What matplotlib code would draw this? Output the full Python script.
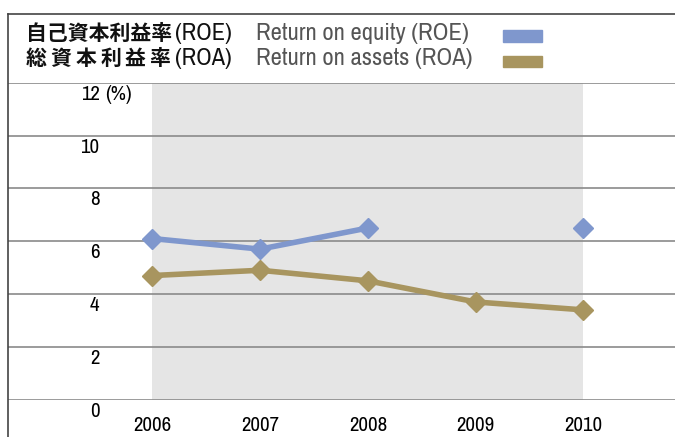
import numpy as np
import matplotlib
matplotlib.use("Agg")
import matplotlib.pyplot as plt
from matplotlib import font_manager
from matplotlib.lines import Line2D
from matplotlib.patches import Rectangle

years = [2006, 2007, 2008, 2009, 2010]
roe = [6.1, 5.7, 6.5, np.nan, 6.5]
roa = [4.7, 4.9, 4.5, 3.7, 3.4]
yticks = [0, 2, 4, 6, 8, 10, 12]
roe_jp = "自己資本利益率"
roa_jp = "総資本利益率"
roe_abbr = "(ROE)"
roa_abbr = "(ROA)"
roe_en = "Return on equity (ROE)"
roa_en = "Return on assets (ROA)"

c_roe = "#7f97cd"
c_roa = "#a8955f"

names = {f.name for f in font_manager.fontManager.ttflist}
narrow = "DejaVu Sans"
for n in ["Archivo Narrow", "Liberation Sans Narrow", "Barlow Condensed"]:
    if n in names:
        narrow = n
        break
fams = [narrow, "Noto Sans CJK JP", "DejaVu Sans"]
jp = ["Noto Sans CJK JP", "DejaVu Sans"]
plt.rcParams["font.family"] = fams

W, H = 675, 437
fig = plt.figure(figsize=(W / 100, H / 100), dpi=100)

def fx(px):
    return px / W

def fy(py):
    return 1 - py / H

y0, y12 = 399.7, 82.7
ax = fig.add_axes([fx(8), fy(y0), 1 - fx(8), fy(y12) - fy(y0)])
ax.set_xlim(2004.66, 2010.85)
ax.set_ylim(0, 12)
for s in ax.spines.values():
    s.set_visible(False)
ax.axvspan(2006, 2010, color="#e5e5e5", zorder=0, lw=0)
for t in yticks:
    ax.axhline(t, color="#8a8a8a", lw=1.2, zorder=1)
ax.set_yticks([])
ax.set_xticks(years)
ax.set_xticklabels([str(y) for y in years], fontsize=15)
ax.tick_params(axis="x", length=0, pad=12)

ax.plot(years, roe, color=c_roe, lw=4, marker="D", ms=10.5, zorder=3)
ax.plot(years, roa, color=c_roa, lw=4, marker="D", ms=10.5, zorder=3)

# y labels sit below each gridline
step = (y0 - y12) / 12
for t in yticks:
    yy = fy(y0 - t * step + 11.5)
    fig.text(fx(99.5), yy, str(t), ha="right", va="center", fontsize=15)
fig.text(fx(105), fy(y12 + 11.5), "(%)", ha="left", va="center", fontsize=15)

# frame lines
fig.add_artist(Line2D([fx(7.5), fx(7.5)], [0, fy(14)], color="#444444", lw=1.2))
fig.add_artist(Line2D([fx(7.5), 1], [fy(14), fy(14)], color="#444444", lw=1.2))

# legend
fig.text(fx(26), fy(33), roe_jp, ha="left", va="center", fontsize=15, fontweight="bold",
         color="#111111", family=jp)
for i, ch in enumerate(roa_jp):
    fig.text(fx(26 + i * 24.7), fy(58.5), ch, ha="left", va="center", fontsize=15,
             fontweight="bold", color="#111111", family=jp)
fig.text(fx(175), fy(33), roe_abbr, ha="left", va="center", fontsize=17.5, color="#111111")
fig.text(fx(175), fy(58.5), roa_abbr, ha="left", va="center", fontsize=17.5, color="#111111")
fig.text(fx(256), fy(33), roe_en, ha="left", va="center", fontsize=17.8, color="#555555")
fig.text(fx(256), fy(58.5), roa_en, ha="left", va="center", fontsize=17.8, color="#555555")
fig.add_artist(Rectangle((fx(503), fy(42)), fx(39), fy(30) - fy(42), color=c_roe, transform=fig.transFigure))
fig.add_artist(Rectangle((fx(503), fy(67)), fx(39), fy(56) - fy(67), color=c_roa, transform=fig.transFigure))

fig.savefig("out.png", dpi=100)
